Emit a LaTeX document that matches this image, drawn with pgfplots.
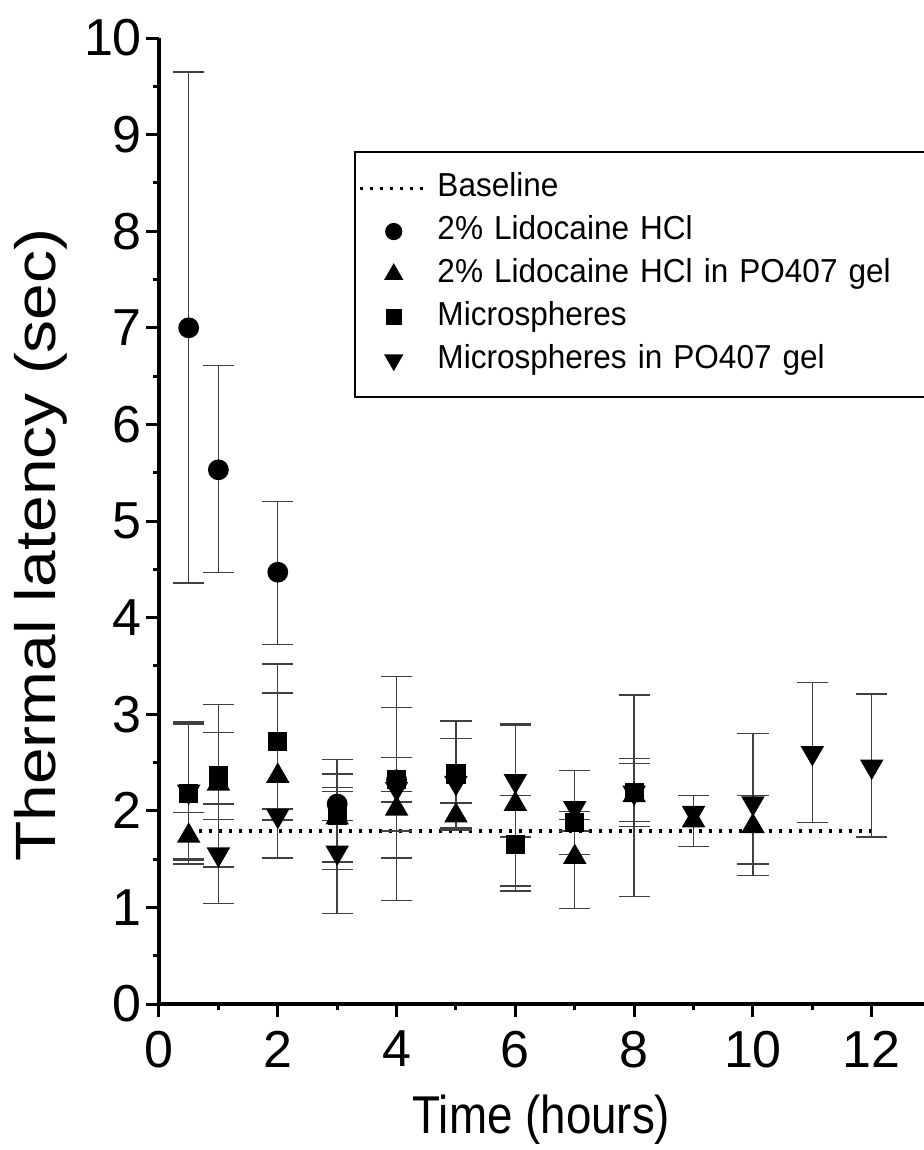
\documentclass[border=0pt]{standalone}
\usepackage{fontspec}
\setmainfont{Liberation Sans}
\newfontfamily\xlabfont{Liberation Sans}[FakeStretch=0.86]
\newfontfamily\ylabfont{Liberation Sans}[FakeStretch=1.16]
\newfontfamily\legfont{Liberation Sans}[FakeStretch=0.95]
\usepackage{pgfplots}
\usepackage{pgfplotstable}
\pgfplotsset{compat=1.18}

% thermal latency, mean with upper/lower error
\pgfplotstableread{
x y ep em
0.5 7.00 2.65 2.64
1 5.53 1.08 1.06
2 4.47 0.73 0.75
3 2.07 0.17 0.17
4 2.32 0.23 0.23
}\lido
\pgfplotstableread{
x y ep em
0.5 1.74 0.24 0.24
1 2.28 0.82 0.86
2 2.36 0.86 0.85
3 1.93 0.45 0.46
4 2.02 0.18 0.23
5 1.95 0.13 0.13
6 2.07 0.82 0.85
7 1.52 0.39 0.53
8 2.16 1.04 1.05
9 1.90 0.26 0.27
10 1.84 0.32 0.51
}\lidogel
\pgfplotstableread{
x y ep em
0.5 2.18 0.74 0.73
1 2.36 0.45 0.45
2 2.72 0.80 0.81
3 1.95 0.58 0.56
4 2.32 0.75 0.81
5 2.38 0.55 0.55
6 1.65 0.51 0.48
7 1.88 0.11 0.09
8 2.19 0.35 0.35
}\micro
\pgfplotstableread{
x y ep em
0.5 2.20 0.70 0.71
1 1.55 0.52 0.51
2 1.95 0.07 0.05
3 1.57 0.63 0.63
4 2.23 1.16 1.16
5 2.29 0.46 0.49
6 2.31 0.59 0.58
7 2.03 0.39 0.48
8 2.19 0.30 0.30
9 1.98 0.18 0.35
10 2.08 0.72 0.63
11 2.60 0.73 0.72
12 2.46 0.75 0.73
}\microgel

\begin{document}
\begin{tikzpicture}
\begin{axis}[
  scale only axis,
  width=191.25pt, height=241.5pt,
  xmin=0, xmax=12.88, ymin=0, ymax=10,
  axis lines*=left,
  axis line style={line width=0.9pt},
  tick align=outside,
  tick style={line width=0.75pt, black},
  major tick length=3.25pt, minor tick length=1.6pt,
  xtick={0,2,...,12}, ytick={0,1,...,10},
  minor tick num=1,
  /pgf/number format/assume math mode=true,
  tick label style={font=\fontsize{13}{15}\selectfont},
  yticklabel style={xshift=2.5pt},
  xlabel={Time (hours)}, ylabel={Thermal latency (sec)},
  xlabel style={font=\xlabfont\fontsize{13.3}{15}\selectfont},
  ylabel style={font=\ylabfont\fontsize{14.2}{16}\selectfont,
    at={(axis description cs:-0.19,0.475)}, anchor=north, inner sep=0pt},
  legend style={at={(0.2549,0.8833)}, anchor=north west, draw=black, line width=0.5pt,
    font=\legfont\fontsize{8.3}{9}\selectfont, inner xsep=0.75pt, inner ysep=5pt, row sep=2.2pt,
    nodes={inner sep=0.5pt, text height=5.8pt, text depth=1.7pt},
    /tikz/every odd column/.append style={column sep=1.5pt},
    /tikz/every even column/.append style={text width=125pt, align=left}},
  legend cell align=left,
  error bars/error bar style={line width=0.35pt, black!75},
  error bars/error mark options={rotate=90, line width=0.35pt, black!75, mark size=3.9pt},
]
\addplot[black, line width=0.8pt, dash pattern=on 0.8pt off 1.7pt] coordinates {(0.5,1.79) (12,1.79)};
\addlegendentry{Baseline}
\addplot[only marks, mark=*, mark size=2.4pt, black, legend image post style={mark size=1.9pt},
  error bars/.cd, y dir=both, y explicit] table[x=x, y=y, y error plus=ep, y error minus=em] {\lido};
\addlegendentry{2\% Lidocaine HCl}
\addplot[only marks, mark=triangle*, mark size=3.0pt, black, legend image post style={mark size=2.3pt},
  error bars/.cd, y dir=both, y explicit] table[x=x, y=y, y error plus=ep, y error minus=em] {\lidogel};
\addlegendentry{2\% Lidocaine HCl in PO407 gel}
\addplot[only marks, mark=square*, mark size=2.2pt, black, legend image post style={mark size=1.7pt},
  error bars/.cd, y dir=both, y explicit] table[x=x, y=y, y error plus=ep, y error minus=em] {\micro};
\addlegendentry{Microspheres}
\addplot[only marks, mark=triangle*, mark size=3.0pt, black, mark options={rotate=180},
  legend image post style={mark size=2.3pt},
  error bars/.cd, y dir=both, y explicit] table[x=x, y=y, y error plus=ep, y error minus=em] {\microgel};
\addlegendentry{Microspheres in PO407 gel}
\end{axis}
\pgfresetboundingbox
\useasboundingbox (-39.75pt,-36.5pt) rectangle (191.25pt,251pt);
\end{tikzpicture}
\end{document}
